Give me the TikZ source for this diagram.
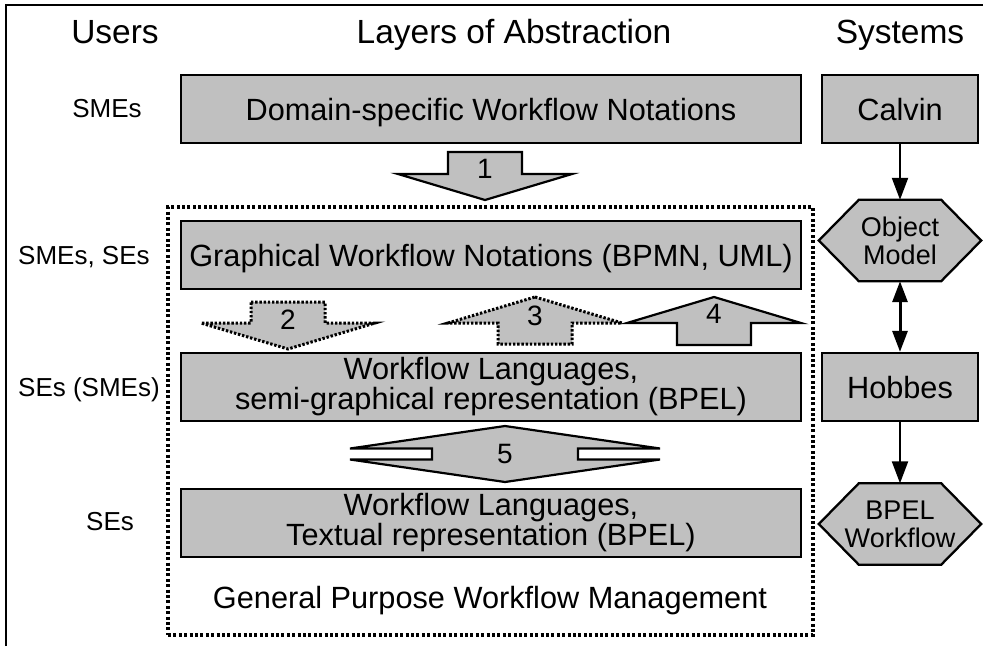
\documentclass[tikz,border=0pt]{standalone}
\usepackage{fontspec}
\setmainfont{Liberation Sans}
\usetikzlibrary{arrows.meta,backgrounds}
\definecolor{boxgray}{HTML}{C0C0C0}
\begin{document}
\begin{tikzpicture}[x=1pt,y=-1pt,
  box/.style={draw, line width=2.3pt, fill=boxgray, inner sep=0pt,
    minimum height=68pt, align=center,
    font=\fontsize{30.7}{30}\selectfont},
  layerbox/.style={box, minimum width=620pt},
  sysbox/.style={box, minimum width=156pt},
  oneline/.style={text height=22pt, text depth=0pt},
  hexnode/.style={inner sep=0pt, minimum width=162pt, minimum height=81pt,
    align=center, font=\fontsize{27}{28}\selectfont},
  hexfill/.style={draw, line width=2.3pt, fill=boxgray, line join=miter},
  title/.style={anchor=base, inner sep=0pt, font=\fontsize{33.5}{36}\selectfont},
  userlbl/.style={inner sep=0pt, font=\fontsize{26}{28}\selectfont},
  numlbl/.style={inner sep=0pt, font=\fontsize{28}{30}\selectfont},
  solidarrow/.style={draw, line width=2.2pt, fill=boxgray, line join=miter},
  dotarrow/.style={draw, line width=3pt, fill=boxgray, dash pattern=on 2.4pt off 1.8pt},
  dotframe/.style={draw, line width=3.2pt, dash pattern=on 3pt off 2.4pt, inner sep=0pt},
  conn/.style={line width=2.2pt, -{Triangle[length=22pt,width=16pt]}},
  dconn/.style={line width=3pt, {Triangle[length=21pt,width=15pt]}-{Triangle[length=21pt,width=15pt]}}
]
\useasboundingbox (0,0) rectangle (983,646);
% outer frame (partially visible)
\draw[line width=2pt] (6,646) -- (6,5) -- (983,5);

% titles
\node[title] (tusers) at (115,43) {Users};
\node[title] (tlayers) at (514,43) {Layers of Abstraction};
\node[title] (tsys) at (900,43) {Systems};

% user labels
\node[userlbl, anchor=base] (u1) at (107,117) {SMEs};
\node[userlbl, anchor=base west] (u2) at (18,264) {SMEs, SEs};
\node[userlbl, anchor=base west] (u3) at (18,396) {SEs (SMEs)};
\node[userlbl, anchor=base] (u4) at (110,530) {SEs};

% dotted general purpose frame
\node[dotframe, minimum width=645pt, minimum height=428pt] (gpwm) at (490.5,421) {};
\node[anchor=base, inner sep=0pt, font=\fontsize{30.7}{30}\selectfont] (gptext) at (490,608) {General Purpose Workflow Management};

% layer boxes
\node[layerbox, oneline] (dom) at (491,109) {Domain-specific Workflow Notations};
\node[layerbox, oneline] (graph) at (491,255) {Graphical Workflow Notations (BPMN, UML)};
\node[layerbox] (semi) at (491,387) {Workflow Languages,\\semi-graphical representation (BPEL)};
\node[layerbox] (text) at (491,523) {Workflow Languages,\\Textual representation (BPEL)};

% block arrows
\begin{scope}[shift={(485,152)}]
  \draw[solidarrow] (-37,0) -- (37,0) -- (37,22) -- (87,22) -- (0,48) -- (-87,22) -- (-37,22) -- cycle;
\end{scope}
\node[numlbl] (n1) at (485,169) {1};
\begin{scope}[shift={(288,302)}]
  \draw[dotarrow] (-37,0) -- (37,0) -- (37,21) -- (87,21) -- (0,47) -- (-87,21) -- (-37,21) -- cycle;
\end{scope}
\node[numlbl] (n2) at (288,320) {2};
\begin{scope}[shift={(535,297)}]
  \draw[dotarrow] (0,0) -- (87,26) -- (37,26) -- (37,47) -- (-37,47) -- (-37,26) -- (-87,26) -- cycle;
\end{scope}
\node[numlbl] (n3) at (535,316) {3};
\begin{scope}[shift={(714,297)}]
  \draw[solidarrow] (0,0) -- (87,26) -- (37,26) -- (37,48) -- (-37,48) -- (-37,26) -- (-87,26) -- cycle;
\end{scope}
\node[numlbl] (n4) at (714,314) {4};
\begin{scope}[shift={(505,454)}]
  \draw[solidarrow] (0,-28) -- (155,-5.5) -- (73,-5.5) -- (73,5.5) -- (155,5.5) -- (0,28)
     -- (-155,5.5) -- (-73,5.5) -- (-73,-5.5) -- (-155,-5.5) -- cycle;
\end{scope}
\node[numlbl] (n5) at (505,454) {5};

% systems
\node[sysbox, oneline] (calvin) at (900,109) {Calvin};
\node[hexnode] (om) at (900,240.5) {Object\\Model};
\node[sysbox, oneline] (hobbes) at (900,387) {Hobbes};
\node[hexnode] (bpel) at (900,524) {BPEL\\Workflow};
\begin{scope}[on background layer]
  \draw[hexfill] (om.west) -- ([xshift=40pt]om.north west) -- ([xshift=-40pt]om.north east)
    -- (om.east) -- ([xshift=-40pt]om.south east) -- ([xshift=40pt]om.south west) -- cycle;
  \draw[hexfill] (bpel.west) -- ([xshift=40pt]bpel.north west) -- ([xshift=-40pt]bpel.north east)
    -- (bpel.east) -- ([xshift=-40pt]bpel.south east) -- ([xshift=40pt]bpel.south west) -- cycle;
\end{scope}

\draw[conn] (calvin) -- (om);
\draw[dconn] (om) -- (hobbes);
\draw[conn] (hobbes) -- (bpel);
\end{tikzpicture}
\end{document}
